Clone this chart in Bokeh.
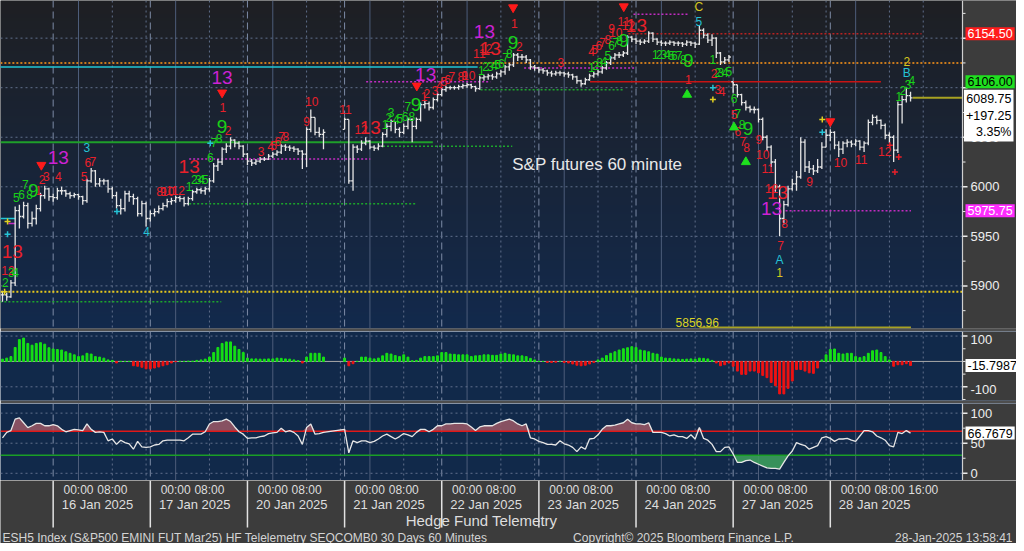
import numpy as np
from bokeh.plotting import figure
from bokeh.layouts import column
from bokeh.models import Range1d, Span, Label, BoxAnnotation
from bokeh.core.properties import value
from bokeh.embed import file_html
from bokeh.resources import INLINE

FONT = "Liberation Sans"

# ------------------------------------------------------------------ data
day_labels = ["16 Jan 2025", "17 Jan 2025", "20 Jan 2025", "21 Jan 2025", "22 Jan 2025",
              "23 Jan 2025", "24 Jan 2025", "27 Jan 2025", "28 Jan 2025"]
first_session_bar = 12      # bar index of the 16 Jan session open (15 Jan 18:00)
session_len = 23            # hourly bars per session (18:00 .. 16:00)

closes = [
    5891, 5889, 5903, 5976, 5970, 5981, 5963, 5968, 5978, 5991, 5998, 5990,
    5989, 5996, 5996, 5993, 5991, 5992, 5990, 5986, 6006, 6016, 6003, 6006, 6006, 5998, 5991, 5981, 5978, 5993, 5990, 5988, 5973, 5983, 5968,
    5973, 5975, 5978, 5981, 5985, 5986, 5989, 5988, 5983, 5988, 5995, 5997, 5996, 5998, 6006, 6021, 6025, 6038, 6041, 6047, 6044, 6041, 6033,
    6026, 6024, 6026, 6028, 6028, 6031, 6033, 6035, 6041, 6040, 6039, 6038, 6036, 6033, 6058, 6070, 6055, 6053, 6055, None, None, None, None,
    6068, 6006, 6040, 6038, 6044, 6046, 6040, 6039, 6041, 6053, 6061, 6066, 6058, 6055, 6061, 6068, 6061, 6068, 6083, 6084, 6080, 6088, 6093,
    6098, 6100, 6100, 6100, 6101, 6102, 6103, 6101, 6099, 6110, 6111, 6112, 6111, 6114, 6116, 6121, 6123, 6133, 6131, 6131, 6128, 6121, 6120,
    6118, 6117, 6115, 6114, 6115, 6115, 6114, 6113, 6111, 6107, 6104, 6108, 6112, 6114, 6116, 6120, 6125, 6130, 6133, 6133, 6135, 6151, 6149,
    6147, 6146, 6147, 6155, 6149, 6146, 6145, 6145, 6146, 6145, 6145, 6144, 6146, 6145, 6144, 6158, 6153, 6148, 6150, 6135, 6126, 6128, 6131,
    6103, 6093, 6085, 6080, 6078, 6078, 6068, 6050, 6040, 6025, 6000, 5968, 5982, 5998, 6003, 6010, 6045, 6020, 6018, 6016, 6020, 6040, 6052,
    6055, 6042, 6038, 6044, 6045, 6043, 6046, 6040, 6044, 6065, 6070, 6067, 6062, 6052, 6050, 6037, 6083, 6088, 6092, 6089.75,
]
highs = [
    5895, 5893, 5906, 5980, 5982, 5985, 5984, 5975, 5982, 5994, 6001, 5999,
    5993, 5999, 6000, 5997, 5995, 5994, 5993, 5991, 6008, 6019, 6017, 6009, 6008, 6007, 6000, 5995, 5988, 5996, 5996, 5993, 5990, 5986, 5985,
    5976, 5978, 5981, 5984, 5988, 5989, 5991, 5991, 5990, 5990, 5997, 5999, 5999, 6000, 6009, 6024, 6028, 6040, 6044, 6050, 6048, 6046, 6042,
    6034, 6028, 6028, 6030, 6030, 6033, 6035, 6037, 6043, 6043, 6042, 6041, 6039, 6037, 6060, 6078, 6070, 6060, 6058, None, None, None, None,
    6070, 6068, 6043, 6042, 6047, 6050, 6047, 6042, 6044, 6055, 6064, 6068, 6066, 6060, 6064, 6070, 6069, 6070, 6085, 6087, 6086, 6090, 6095,
    6100, 6102, 6102, 6102, 6103, 6104, 6105, 6104, 6102, 6112, 6113, 6114, 6114, 6116, 6118, 6123, 6125, 6135, 6135, 6134, 6133, 6129, 6123,
    6121, 6120, 6118, 6117, 6117, 6117, 6116, 6116, 6114, 6112, 6108, 6110, 6114, 6116, 6118, 6122, 6127, 6132, 6135, 6136, 6137, 6153, 6152,
    6150, 6149, 6149, 6157, 6156, 6150, 6148, 6147, 6148, 6147, 6147, 6146, 6148, 6147, 6146, 6163, 6160, 6155, 6154, 6151, 6136, 6131, 6133,
    6106, 6103, 6094, 6087, 6082, 6081, 6079, 6070, 6052, 6042, 6028, 6002, 5986, 6001, 6008, 6016, 6050, 6048, 6026, 6022, 6028, 6045, 6058,
    6058, 6056, 6046, 6046, 6048, 6047, 6048, 6047, 6046, 6068, 6073, 6072, 6068, 6064, 6055, 6052, 6086, 6092, 6100, 6096,
]
lows = [
    5884, 5885, 5888, 5900, 5958, 5968, 5958, 5960, 5962, 5975, 5988, 5986,
    5985, 5987, 5992, 5990, 5988, 5989, 5987, 5982, 5984, 6004, 6000, 6000, 6002, 5994, 5988, 5978, 5972, 5975, 5985, 5982, 5970, 5970, 5960,
    5965, 5970, 5973, 5976, 5979, 5982, 5984, 5985, 5980, 5981, 5986, 5993, 5993, 5992, 5995, 6004, 6016, 6022, 6034, 6038, 6040, 6038, 6030,
    6022, 6021, 6022, 6024, 6026, 6027, 6029, 6031, 6033, 6036, 6036, 6035, 6032, 6018, 6020, 6055, 6052, 6050, 6038, None, None, None, None,
    6058, 6003, 5996, 6034, 6036, 6042, 6038, 6036, 6037, 6040, 6050, 6056, 6054, 6050, 6053, 6058, 6045, 6058, 6066, 6079, 6077, 6078, 6086,
    6091, 6096, 6098, 6098, 6098, 6099, 6100, 6099, 6096, 6098, 6107, 6108, 6108, 6109, 6111, 6113, 6117, 6121, 6127, 6128, 6125, 6118, 6117,
    6115, 6114, 6112, 6111, 6112, 6112, 6111, 6110, 6108, 6104, 6101, 6103, 6107, 6110, 6112, 6114, 6118, 6123, 6128, 6130, 6131, 6133, 6146,
    6144, 6143, 6144, 6145, 6146, 6143, 6142, 6142, 6143, 6142, 6142, 6141, 6142, 6142, 6140, 6143, 6150, 6145, 6142, 6130, 6123, 6124, 6126,
    6095, 6090, 6082, 6077, 6075, 6074, 6065, 6047, 6036, 6020, 5995, 5950, 5962, 5980, 5996, 5996, 6008, 6015, 6014, 6012, 6014, 6018, 6040,
    6046, 6038, 6030, 6033, 6040, 6040, 6041, 6037, 6035, 6042, 6062, 6063, 6058, 6048, 6044, 6025, 6034, 6064, 6085, 6086,
]
momentum_hist = [
    9, 13, 19, 55, 86, 92, 71, 64, 71, 74, 68, 54,
    49, 47, 45, 38, 32, 26, 19, 22, 32, 29, 19, 17, 13, 6, 4, -6, 0, 0, 0, -17, -19, -23, -29,
    -29, -26, -22, -17, -13, -6, -1, 0, 0, 1, 1, 4, 6, 9, 17, 35, 55, 71, 77, 77, 60, 47, 35,
    13, 10, 10, 9, 9, 10, 10, 13, 12, 10, 9, 6, 3, -6, 17, 32, 32, 32, 17, None, None, None, None,
    13, -17, -9, 0, 17, 17, 13, 10, 13, 22, 32, 29, 23, 19, 26, 17, 3, 4, 13, 19, 19, 19, 22,
    35, 35, 29, 28, 26, 26, 26, 19, 22, 23, 26, 26, 24, 24, 29, 32, 28, 26, 22, 22, 19, 12, 6,
    0, 0, -4, -4, -3, 0, -4, -6, -10, -15, -17, -15, -10, -4, 6, 13, 23, 32, 38, 45, 50, 54, 58,
    55, 45, 42, 38, 32, 29, 17, 13, 12, 10, 9, 8, 9, 10, 9, 13, 12, 10, 4, -6, -17, -13, -6,
    -19, -38, -51, -51, -38, -38, -45, -55, -64, -83, -96, -128, -128, -106, -77, -32, -32, -38, -45, -47, -26, 6, 26,
    47, 49, 32, 29, 32, 32, 19, 15, 19, 32, 42, 45, 35, 19, 6, -19, -13, -13, -9, -15.7987,
]
oscillator = [
    59, 68, 71, 90, 92, 84, 76, 79, 83, 83, 79, 79,
    81, 79, 73, 69, 71, 73, 72, 71, 82, 73, 68, 69, 68, 54, 57, 48, 55, 51, 49, 40, 53, 44, 43,
    44, 47, 48, 54, 55, 55, 55, 55, 54, 59, 65, 65, 65, 69, 82, 86, 86, 87, 90, 86, 77, 69, 65,
    58, 59, 59, 61, 62, 66, 67, 68, 75, 69, 71, 68, 62, 48, 76, 82, 65, 66, 68, None, None, None, None,
    73, 34, 54, 51, 54, 54, 51, 53, 57, 62, 65, 61, 57, 61, 66, 64, 61, 68, 73, 73, 69, 73, 79,
    79, 82, 82, 83, 83, 83, 82, 77, 71, 77, 79, 79, 79, 83, 86, 88, 90, 87, 82, 79, 82, 59, 57,
    53, 51, 48, 48, 47, 54, 49, 47, 43, 36, 44, 40, 57, 58, 64, 73, 79, 79, 80, 82, 84, 90, 84,
    82, 82, 81, 84, 68, 68, 68, 66, 62, 64, 61, 61, 58, 64, 57, 76, 58, 55, 48, 36, 36, 43, 44,
    32, 18, 18, 21, 22, 18, 15, 12, 9, 8, 8, 7, 18, 29, 37, 51, 48, 46, 40, 43, 46, 59, 61,
    58, 53, 57, 57, 58, 55, 53, 62, 71, 71, 69, 62, 59, 55, 46, 44, 68, 66, 71, 66.7679,
]
osc_upper, osc_lower = 70, 30
last_price, net_change, pct_change = 6089.75, "+197.25", "3.35%"

price_ticks = [5900, 5950, 6000, 6050, 6100, 6150]
price_minor = [5875, 5925, 5975, 6025, 6075, 6125, 6175]
hist_ticks = [-100, 100]
hist_minor = [-150, -50, 0, 50]
osc_ticks = [0, 50, 100]
osc_minor = [25, 75]

# price tags on the right scale
tag_price = [6154.50, 6106.00, 5975.75]
tag_text = ["6154.50", "6106.00", "5975.75"]
tag_bg = ["#ff1c1c", "#1fe01f", "#ff2cff"]
tag_fg = ["#ffffff", "#000000", "#ffffff"]

# horizontal level lines: price, from bar, to bar, style
lvl_price = [6121, 6125, 5894, 6045, 5884, 5983, 6041, 6098, 6028, 6106, 6120, 6174,
             6154.5, 6106, 5975.75, 5858, 6089.75, 5968, 5963]
lvl_from = [-0.5, -0.5, -0.5, -0.5, -0.5, 44.2, 90.1, 113.2, 44.2, 86.1, 123.5, 149.4,
            148.2, 139.1, 185.4, 165.0, 215.5, -0.5, 1.4]
lvl_to = [112.5, 227.3, 227.3, 101.9, 51.8, 97.9, 120.7, 147.1, 87.1, 115.5, 149.6, 162.4,
          217.6, 208.0, 215.1, 215.1, 227.3, 3.1, 3.1]
lvl_style = ["cyan", "orange_dot", "yellow_dot", "green", "green_dot", "green_dot", "green_dot",
             "green_dot", "mag_dot", "mag_dot", "mag_dot", "mag_dot", "red_dot", "red",
             "mag_dot", "olive", "olive", "cyan", "magenta"]

# sequential count labels
red_txt = ["12", "1", "2", "3", "4", "5", "6", "7", "8", "9", "10", "11", "12", "1", "2", "3", "4", "5", "6", "7", "8",
           "9", "10", "11", "12", "1", "2", "3", "4", "5", "6", "7", "8", "9", "10", "11", "12", "1", "2", "3",
           "4", "5", "6", "7", "8", "9", "10", "11", "12", "1", "2", "3", "4", "5", "6", "7", "8", "9", "10",
           "11", "12", "8", "7", "9", "10", "11", "12"]
red_bar = [1.3, 8.5, 9.4, 10.4, 13.2, 19.3, 20.2, 21.4, 37.2, 38.1, 39.1, 40.2, 41.6, 52.2, 53.4, 61.2, 63.5, 64.2, 65.2, 66.1, 67.1,
           72.0, 73.2, 81.2, 84.9, 99.8, 100.5, 102.4, 103.5, 104.5, 105.4, 106.4, 108.5, 109.4, 110.4, 112.9, 114.4, 121.2, 122.4, 132.2,
           139.5, 140.2, 141.2, 142.1, 143.3, 144.2, 145.2, 147.1, 148.2, 162.4, 168.5, 169.4, 170.4, 173.2, 174.1, 175.3, 176.2, 179.1, 180.0,
           181.2, 182.1, 185.2, 184.2, 191.1, 198.4, 203.3, 208.9]
red_px = [5916, 5996, 6007, 6010, 6010, 6010, 6025, 6026, 5995, 5995, 5995, 5996, 5996, 6080, 6057, 6036, 6041, 6042, 6046, 6051, 6051,
          6066, 6086, 6078, 6058, 6091, 6094, 6097, 6102, 6106, 6108, 6111, 6111, 6112, 6112, 6135, 6140, 6165, 6142, 6125,
          6137, 6139, 6143, 6146, 6149, 6160, 6156, 6167, 6163, 6108, 6114, 6098, 6096, 6073, 6056, 6046, 6040, 6048, 6033,
          6018, 5998, 5963, 5941, 6005, 6025, 6028, 6036]

green_txt = ["2", "3", "4", "5", "6", "7", "8", "1", "2", "3", "4", "5", "6", "7", "8", "1", "2", "3", "4", "5", "6", "7", "8",
             "1", "2", "3", "4", "5", "6", "7", "8", "1", "2", "3", "4", "5", "6", "7", "8", "1", "2", "3", "4", "5", "6", "7", "8",
             "1", "2", "3", "4", "5", "6", "7", "8", "1", "2", "3", "4"]
green_bar = [0.7, 2.1, 3.1, 3.3, 4.5, 5.4, 6.4, 44.2, 45.4, 46.4, 47.1, 48.0, 49.2, 50.1, 51.3, 90.6, 91.5, 92.0, 93.2, 94.1, 95.3, 96.0, 96.9,
             113.4, 114.4, 115.5, 116.5, 117.2, 118.1, 119.1, 120.0, 139.5, 140.5, 141.4, 142.4, 143.3, 144.2, 145.2, 146.1,
             154.6, 155.5, 156.5, 157.4, 158.4, 159.1, 160.2, 161.2, 168.2, 169.4, 170.1, 171.1, 172.0, 173.2, 174.1, 175.1,
             212.2, 213.2, 214.4, 215.3]
green_px = [5903, 5914, 5914, 5989, 5992, 6002, 5992, 6000, 6007, 6007, 6007, 6007, 6030, 6045, 6049, 6063, 6070, 6075, 6068, 6069, 6071, 6081, 6071,
            6117, 6121, 6121, 6122, 6123, 6124, 6130, 6135, 6120, 6122, 6125, 6126, 6132, 6143, 6146, 6148,
            6134, 6134, 6134, 6134, 6133, 6132, 6133, 6128, 6128, 6115, 6115, 6115, 6116, 6089, 6074, 6063,
            6091, 6097, 6103, 6107]

nine_bar = [7.3, 52.0, 97.9, 120.9, 147.1, 162.4, 176.5]
nine_px = [5996, 6061, 6083, 6146, 6148, 6127, 6059]
red13_bar = [2.3, 44.2, 87.1, 115.5, 150.1, 183.5]
red13_px = [5935, 6020, 6060, 6140, 6163, 5994]
mag13_bar = [13.2, 52.0, 100.2, 114.1, 182.1]
mag13_px = [6030, 6110, 6113, 6157, 5978]
cyan_txt = ["3", "4", "5", "A", "B"]
cyan_bar = [20.0, 34.1, 164.9, 184.0, 214.1]
cyan_px = [6040, 5955, 6167, 5926, 6115]
yel_txt = ["C", "1", "2"]
yel_bar = [164.9, 184.0, 214.1]
yel_px = [6181, 5914, 6126]

down_bar = [9.2, 52.0, 98.1, 120.9, 147.1, 196.0]
down_px = [6022, 6095, 6102, 6181, 6182, 6066]
up_bar = [162.1, 173.2, 176.0]
up_px = [6093, 6060, 6025]
cplus_bar = [1.2, 27.1, 49.2, 168.2, 194.1]
cplus_px = [5952, 5975, 6044, 6100, 6055]
yplus_bar = [1.2, 0.5, 168.2, 194.1]
yplus_px = [5965, 5894, 6088, 6068]
rplus_bar = [210.1, 211.3, 212.2]
rplus_px = [6042, 6015, 6030]

# ------------------------------------------------------------------ layout
W = 1016
SCALE_W = 54                  # width of the right-hand price scale, px
X0, X1 = -0.47, 227.3         # visible bar span of the chart area
PPB = (W - SCALE_W) / (X1 - X0)
XE = X0 + W / PPB             # range end incl. the price-scale strip
xr = Range1d(X0, XE)
P0, P1 = 5857, 6188

BORDER = "#3c3c3c"
SEP = "#4e4e4e"
NAVY = "#11294a"
TXT = "#eeeeee"
GRID = "#61708c"

day_starts = [first_session_bar + session_len * k for k in range(len(day_labels))]
midnights = [s + 6 for s in day_starts]
dotted_x = [s + 14 for s in day_starts] + [s + 22 for s in day_starts]


def make_fig(h, yr, bottom, bg):
    f = figure(width=W, height=h, x_range=xr, y_range=yr, output_backend="svg",
               toolbar_location=None, x_axis_location=None, y_axis_location=None,
               min_border_left=0, min_border_right=0, min_border_top=0,
               min_border_bottom=bottom, border_fill_color=SEP,
               background_fill_color=bg, outline_line_color=None)
    f.grid.visible = False
    for xv in day_starts:
        f.add_layout(Span(location=xv, dimension="height", line_color="#7d8ba6",
                          line_dash="7 4", line_width=1, level="underlay"))
    for xv in midnights:
        f.add_layout(Span(location=xv, dimension="height", line_color="#4d5d7a",
                          line_width=1, level="underlay"))
    for xv in dotted_x:
        f.add_layout(Span(location=xv, dimension="height", line_color="#5f6e8a",
                          line_dash="2 3", line_width=1, level="underlay"))
    return f


def price_scale(f, ticks, minor, hidden=(), label_shift=0):
    """grid lines across the chart, then the grey scale strip with ticks and labels"""
    n = len(ticks)
    f.segment(x0=[X0] * n, y0=ticks, x1=[X1] * n, y1=ticks, line_color=GRID,
              line_dash="2 3", line_width=1)
    f.add_layout(BoxAnnotation(left=X1, fill_color=BORDER, fill_alpha=1.0, line_color=None,
                               level="underlay"))
    f.add_layout(Span(location=X1, dimension="height", line_color="#cfcfcf", line_width=1.2))
    f.segment(x0=[X1] * n, y0=ticks, x1=[X1 + 5 / PPB] * n, y1=ticks,
              line_color="#eaeaea", line_width=1.5)
    m = len(minor)
    f.segment(x0=[X1] * m, y0=minor, x1=[X1 + 3 / PPB] * m, y1=minor,
              line_color="#eaeaea", line_width=1)
    shown = [t for t in ticks if t not in hidden]
    f.text(x=[X1 + 8 / PPB] * len(shown), y=shown, text=[str(t) for t in shown],
           y_offset=label_shift, text_font=value(FONT), text_font_size="13px",
           text_color=TXT, text_align="left", text_baseline="middle")


def tag(f, y, text, bg, fg, baseline="middle", yoff=0, align="left"):
    xpos = X1 + 3 / PPB if align == "left" else XE - 3 / PPB
    f.add_layout(Label(x=xpos, y=y, y_offset=yoff, text=text, text_align=align,
                       text_baseline=baseline, text_color=fg, text_font=FONT,
                       text_font_size="12.5px", background_fill_color=bg,
                       border_line_color=None, padding=2))


# ---------------- main price panel
p = make_fig(331, Range1d(P0, P1), 3, BORDER)

n_img = 256
tt = np.linspace(0.0, 1.0, n_img)[:, None]
c_bot = np.array([18, 41, 76])[None, :]
c_top = np.array([30, 31, 35])[None, :]
rgb = (c_bot * (1 - tt) + c_top * tt).round().astype(np.uint8)
img = np.empty((n_img, 1), dtype=np.uint32)
view = img.view(dtype=np.uint8).reshape((n_img, 1, 4))
view[:, 0, 0] = rgb[:, 0]
view[:, 0, 1] = rgb[:, 1]
view[:, 0, 2] = rgb[:, 2]
view[:, 0, 3] = 255
p.image_rgba(image=[img], x=X0, y=P0, dw=X1 - X0, dh=P1 - P0, level="image")

# tick labels that sit under a price tag are hidden, as on the terminal
covered = [t for t in price_ticks if any(abs(t - tp) < 12 for tp in tag_price + [last_price])]
price_scale(p, price_ticks, price_minor, hidden=covered)

styles = {
    "cyan": ("#20c6d6", None, 1.5),
    "orange_dot": ("#c97a1c", "2 2", 2),
    "yellow_dot": ("#e6c81c", "2 2", 2),
    "green": ("#1f9f2a", None, 2),
    "green_dot": ("#1ca62c", "2 2", 1.5),
    "mag_dot": ("#c22cc2", "2 2", 1.5),
    "magenta": ("#c22cc2", None, 1.5),
    "red_dot": ("#b82222", "2 2", 1.5),
    "red": ("#c81414", None, 1.5),
    "olive": ("#a8a222", None, 2),
}
for key, (col, dash, lw) in styles.items():
    sel = [i for i, s in enumerate(lvl_style) if s == key]
    if not sel:
        continue
    kw = dict(line_color=col, line_width=lw)
    if dash:
        kw["line_dash"] = dash
    p.segment(x0=[lvl_from[i] for i in sel], y0=[lvl_price[i] for i in sel],
              x1=[min(lvl_to[i], X1) for i in sel], y1=[lvl_price[i] for i in sel], **kw)

# OHLC bars (open = previous close, kept inside the bar's range)
bx, bo, bh, bl, bc = [], [], [], [], []
prev = None
for i, c in enumerate(closes):
    if c is None:
        continue
    h = max(highs[i], c)
    lo = min(lows[i], c)
    op = c if prev is None else min(max(prev, lo), h)
    bx.append(i); bo.append(op); bh.append(h); bl.append(lo); bc.append(c)
    prev = c
bx = np.array(bx, dtype=float)
bar_col = "#e6e6e6"
p.segment(x0=bx, y0=bl, x1=bx, y1=bh, line_color=bar_col, line_width=1.3)
p.segment(x0=bx - 0.45, y0=bo, x1=bx, y1=bo, line_color=bar_col, line_width=1.3)
p.segment(x0=bx, y0=bc, x1=bx + 0.45, y1=bc, line_color=bar_col, line_width=1.3)

# count labels
txt_kw = dict(text_font=value(FONT), text_align="center", text_baseline="middle")
p.text(x=red_bar, y=red_px, text=red_txt, text_color="#e8202a", text_font_size="12px", **txt_kw)
p.text(x=green_bar, y=green_px, text=green_txt, text_color="#19d019", text_font_size="12px", **txt_kw)
p.text(x=cyan_bar, y=cyan_px, text=cyan_txt, text_color="#25c3d6", text_font_size="12px", **txt_kw)
p.text(x=yel_bar, y=yel_px, text=yel_txt, text_color="#d6c81e", text_font_size="12px", **txt_kw)
p.text(x=nine_bar, y=nine_px, text=["9"] * len(nine_bar), text_color="#19d019",
       text_font_size="19px", **txt_kw)
p.text(x=red13_bar, y=red13_px, text=["13"] * len(red13_bar), text_color="#e8202a",
       text_font_size="19px", **txt_kw)
p.text(x=mag13_bar, y=mag13_px, text=["13"] * len(mag13_bar), text_color="#cc22d4",
       text_font_size="19px", **txt_kw)

p.scatter(x=down_bar, y=down_px, marker="inverted_triangle", size=9, color="#ff1a1a")
p.scatter(x=up_bar, y=up_px, marker="triangle", size=9, color="#1ee01e")
p.scatter(x=cplus_bar, y=cplus_px, marker="cross", size=6, line_color="#25c3d6", line_width=1.5)
p.scatter(x=yplus_bar, y=yplus_px, marker="cross", size=6, line_color="#e0d020", line_width=1.5)
p.scatter(x=rplus_bar, y=rplus_px, marker="cross", size=6, line_color="#e8202a", line_width=1.5)

p.add_layout(Label(x=120.7, y=6023, text="S&P futures 60 minute", text_align="left",
                   text_baseline="middle", text_color="#e8e8e8", text_font=FONT,
                   text_font_size="17px"))
p.add_layout(Label(x=164.5, y=5858, y_offset=1, text="5856.96", text_align="center",
                   text_baseline="bottom", text_color="#dcd424", text_font=FONT,
                   text_font_size="12px"))

for yv, t, bg, fg in zip(tag_price, tag_text, tag_bg, tag_fg):
    tag(p, yv, t, bg, fg)
tag(p, last_price, f"{last_price:.2f}\n{net_change}\n{pct_change}", "#ffffff", "#000000",
    baseline="top", yoff=8, align="right")

# ---------------- momentum histogram
ph = make_fig(72, Range1d(-154, 118), 3, NAVY)
price_scale(ph, hist_ticks, hist_minor, label_shift=3)
hx = [i for i, v in enumerate(momentum_hist) if v is not None]
hv = [momentum_hist[i] for i in hx]
hcol = ["#16e016" if v >= 0 else "#f01212" for v in hv]
ph.segment(x0=[X0], y0=[0], x1=[X1], y1=[0], line_color="#a9a9a9", line_width=1)
ph.vbar(x=hx, top=hv, bottom=0, width=0.45, color=hcol)
tag(ph, momentum_hist[-1], f"{momentum_hist[-1]:.4f}", "#ffffff", "#000000")

# ---------------- oscillator
po = make_fig(77, Range1d(-12, 116), 0, NAVY)
price_scale(po, osc_ticks, osc_minor)
ox = [i for i, v in enumerate(oscillator) if v is not None]
ov = np.array([oscillator[i] for i in ox], dtype=float)
po.varea(x=ox, y1=np.full(len(ov), osc_upper), y2=np.maximum(ov, osc_upper),
         fill_color="#9c5866", fill_alpha=0.85)
po.varea(x=ox, y1=np.minimum(ov, osc_lower), y2=np.full(len(ov), osc_lower),
         fill_color="#3c9c5c", fill_alpha=0.9)
po.segment(x0=[X0, X0], y0=[osc_upper, osc_lower], x1=[X1, X1], y1=[osc_upper, osc_lower],
           line_color=["#e01818", "#1a9e26"], line_width=1.5)
po.line(x=ox, y=ov, line_color="#e6e6e6", line_width=1.3)
tag(po, oscillator[-1], f"{oscillator[-1]:.4f}", "#ffffff", "#000000")

# ---------------- time axis + footer
AH = 63
pa = figure(width=W, height=AH, x_range=xr, y_range=Range1d(AH, 0),
            output_backend="svg", toolbar_location=None, x_axis_location=None,
            y_axis_location=None, min_border=0, background_fill_color=BORDER,
            border_fill_color=BORDER, outline_line_color=None)
pa.grid.visible = False
pa.segment(x0=day_starts, y0=0, x1=day_starts, y1=47, line_color="#e2e2e2", line_width=1.5)
tick_x = [s + 6 for s in day_starts] + [s + 14 for s in day_starts] + [day_starts[-1] + 22]
tick_t = ["00:00"] * len(day_starts) + ["08:00"] * len(day_starts) + ["16:00"]
lab_kw = dict(text_font=value(FONT), text_align="center", text_baseline="middle", text_color="#dedede")
pa.text(x=tick_x, y=[9] * len(tick_x), text=tick_t, text_font_size="12px", **lab_kw)
pa.text(x=[s + 10.5 for s in day_starts], y=[24] * len(day_starts), text=day_labels,
        text_font_size="13px", **lab_kw)
pa.text(x=[(X0 + X1) / 2], y=[40], text=["Hedge Fund Telemetry"], text_font_size="15px", **lab_kw)


def px_x(px):
    return X0 + px / PPB


foot_kw = dict(text_font=FONT, text_font_size="12px", text_color="#d4d4d4", text_baseline="middle")
pa.add_layout(Label(x=px_x(2), y=57, text="ESH5 Index (S&P500 EMINI FUT  Mar25) HF Telelemetry SEQCOMB0 30 Days 60 Minutes",
                    text_align="left", **foot_kw))
pa.add_layout(Label(x=px_x(683), y=57, text="Copyright\u00a9 2025 Bloomberg Finance L.P.",
                    text_align="center", **foot_kw))
pa.add_layout(Label(x=px_x(1012), y=57, text="28-Jan-2025 13:58:41", text_align="right", **foot_kw))

layout = column(p, ph, po, pa, spacing=0)
open("out.html", "w").write(file_html(layout, INLINE))
